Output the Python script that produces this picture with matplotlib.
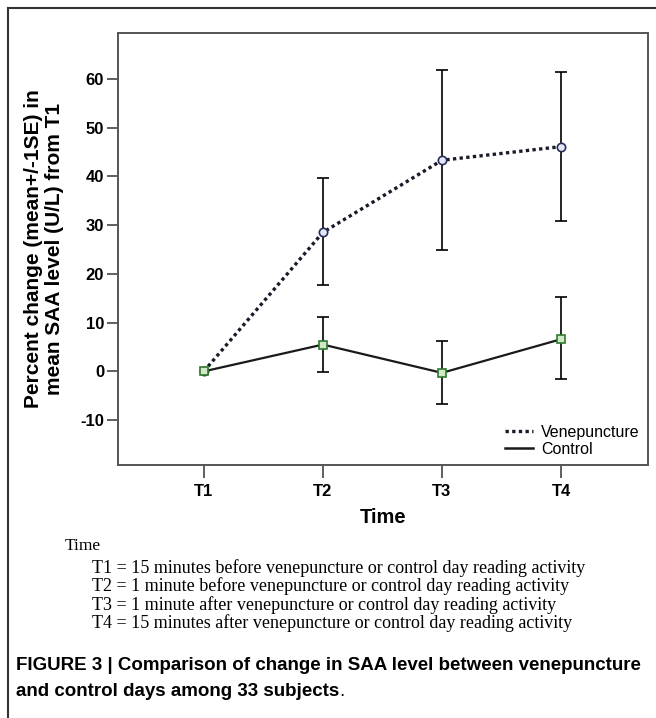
import numpy as np
import matplotlib
matplotlib.use("Agg")
import matplotlib.pyplot as plt
from matplotlib.lines import Line2D

plt.rcParams['font.family'] = ['Liberation Sans', 'DejaVu Sans']

# data
times = ['T1', 'T2', 'T3', 'T4']
veni_mean = [0.0, 28.5, 43.3, 46.1]
veni_low = [0.0, 17.7, 24.8, 30.9]
veni_high = [0.0, 39.6, 61.9, 61.4]
ctrl_mean = [0.0, 5.5, -0.3, 6.6]
ctrl_low = [0.0, -0.1, -6.7, -1.6]
ctrl_high = [0.0, 11.2, 6.3, 15.3]
yticks = [-10, 0, 10, 20, 30, 40, 50, 60]

notes = [
    'T1 = 15 minutes before venepuncture or control day reading activity',
    'T2 = 1 minute before venepuncture or control day reading activity',
    'T3 = 1 minute after venepuncture or control day reading activity',
    'T4 = 15 minutes after venepuncture or control day reading activity',
]

W, H = 656, 718
fig = plt.figure(figsize=(W / 100, H / 100), dpi=100)

def fx(px):
    return px / W

def fy(py):
    return 1 - py / H

ax = fig.add_axes([fx(118), fy(465), fx(648) - fx(118), fy(33) - fy(465)])

x = np.arange(1, len(times) + 1)

v_err = [np.array(veni_mean) - np.array(veni_low), np.array(veni_high) - np.array(veni_mean)]
c_err = [np.array(ctrl_mean) - np.array(ctrl_low), np.array(ctrl_high) - np.array(ctrl_mean)]

ax.errorbar(x[1:], veni_mean[1:], yerr=[v_err[0][1:], v_err[1][1:]], fmt='none',
            ecolor='black', elinewidth=1.2, capsize=4, capthick=1.2, zorder=2)
ax.errorbar(x[1:], ctrl_mean[1:], yerr=[c_err[0][1:], c_err[1][1:]], fmt='none',
            ecolor='black', elinewidth=1.2, capsize=4, capthick=1.2, zorder=2)

ax.plot(x, veni_mean, color='#1a1a2a', lw=2.4, linestyle=(0, (1, 1)), zorder=3)
ax.plot(x, ctrl_mean, color='#1a1a1a', lw=1.6, linestyle='-', zorder=3)
ax.plot(x, veni_mean, 'o', ms=6, mfc='#e4e7f5', mec='#2a2d5c', mew=1.2, zorder=4)
ax.plot(x, ctrl_mean, 's', ms=5.5, mfc='#cfe8c8', mec='#2f7a2f', mew=1.2, zorder=5)

ax.set_xlim(0.28, 4.73)
ax.set_ylim(-19.2, 69.4)
ax.set_xticks(x)
ax.set_xticklabels(times, fontsize=12, fontweight='bold')
ax.set_yticks(yticks)
ax.set_yticklabels([str(t) for t in yticks], fontsize=12, fontweight='bold')
ax.tick_params(axis='both', direction='out', length=8, width=1.2, color='#444444', pad=2)
ax.tick_params(axis='x', length=9, pad=5)
for s in ax.spines.values():
    s.set_color('#555555')
    s.set_linewidth(1.4)

ax.set_xlabel('Time', fontsize=14.5, fontweight='bold', labelpad=6)
fig.text(fx(44), fy(249), 'Percent change (mean+/-1SE) in\nmean SAA level (U/L) from T1',
         rotation=90, ha='center', va='center', fontsize=15, fontweight='bold',
         linespacing=1.1)

handles = [Line2D([0], [0], color='#1a1a2a', lw=2.4, linestyle=(0, (1, 1))),
           Line2D([0], [0], color='#1a1a1a', lw=1.8)]
ax.legend(handles, ['Venepuncture', 'Control'], loc='lower right', frameon=False,
          fontsize=11.5, handlelength=1.8, handletextpad=0.5, labelspacing=0.15,
          borderaxespad=0.3, borderpad=0.2)

# outer frame
fig.add_artist(Line2D([fx(8), 1], [fy(8), fy(8)], color='#333333', lw=1.5))
fig.add_artist(Line2D([fx(8), fx(8)], [fy(8), 0], color='#333333', lw=1.5))

fig.text(fx(65), fy(546), 'Time', family='Liberation Serif', fontsize=12.5, va='center')
for i, line in enumerate(notes):
    fig.text(fx(92), fy(568 + i * 18.5), line, family='Liberation Serif', fontsize=13, va='center')

fig.text(fx(16), fy(666), 'FIGURE 3 | Comparison of change in SAA level between venepuncture',
         fontsize=13.5, fontweight='bold', va='center')
t = fig.text(fx(16), fy(692), 'and control days among 33 subjects', fontsize=13.5,
             fontweight='bold', va='center')
fig.canvas.draw()
bb = t.get_window_extent()
fig.text(bb.x1 / W, fy(692), '.', fontsize=13.5, va='center')

fig.savefig('out.png', dpi=100)
